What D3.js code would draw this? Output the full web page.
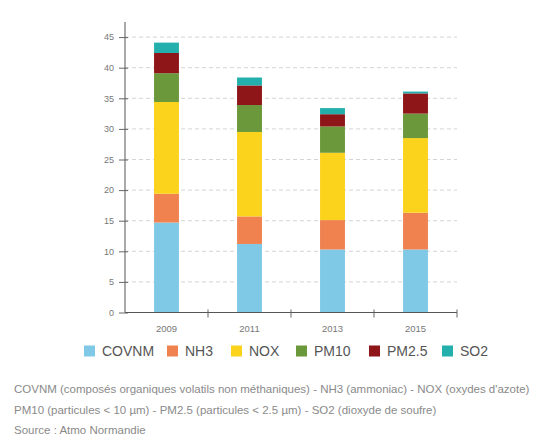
<!DOCTYPE html>
<html>
<head>
<meta charset="utf-8">
<script src="https://cdn.jsdelivr.net/npm/d3@7/dist/d3.min.js"></script>
<style>
  html, body { margin: 0; padding: 0; background: #fff; }
  svg { display: block; font-family: "Liberation Sans", Arial, sans-serif; }
</style>
</head>
<body>
<svg id="chart" width="553" height="444"></svg>
<script>
// Emissions by pollutant (kt), stacked per year
const years = ["2009", "2011", "2013", "2015"];
const pollutants = ["COVNM", "NH3", "NOX", "PM10", "PM2.5", "SO2"];
const covnm = [14.7, 11.2, 10.3, 10.3];
const nh3   = [4.7, 4.5, 4.8, 6.0];
const nox   = [15.0, 13.8, 11.0, 12.2];
const pm10  = [4.7, 4.4, 4.3, 4.0];
const pm25  = [3.3, 3.2, 2.0, 3.3];
const so2   = [1.7, 1.3, 1.0, 0.3];
const yTicks = [0, 5, 10, 15, 20, 25, 30, 35, 40, 45];
const colors = ["#80c9e6", "#f08250", "#fbd31c", "#6a983a", "#8e1518", "#23b0ad"];
const notes = [
  "COVNM (composés organiques volatils non méthaniques) - NH3 (ammoniac) - NOX (oxydes d'azote)",
  "PM10 (particules < 10 µm) - PM2.5 (particules < 2.5 µm) - SO2 (dioxyde de soufre)",
  "Source : Atmo Normandie"
];

const seriesValues = [covnm, nh3, nox, pm10, pm25, so2];
const rows = years.map((yr, i) => {
  const r = { year: yr };
  pollutants.forEach((p, j) => { r[p] = seriesValues[j][i]; });
  return r;
});

const svg = d3.select("#chart");
const plotLeft = 125, plotRight = 457, plotTop = 22, plotBottom = 312.5;

const x = d3.scaleBand().domain(years).range([plotLeft, plotRight]).paddingInner(0.7).paddingOuter(0.35);
const xTickScale = d3.scaleBand().domain(years).range([plotLeft, plotRight]);
const y = d3.scaleLinear().domain([0, 45]).range([plotBottom, plotBottom - 45 * 6.12]);

// dashed gridlines
svg.append("g")
  .selectAll("line")
  .data(yTicks.filter(d => d > 0))
  .join("line")
  .attr("x1", plotLeft).attr("x2", plotRight)
  .attr("y1", d => y(d)).attr("y2", d => y(d))
  .attr("stroke", "#d4d4d4")
  .attr("stroke-width", 1)
  .attr("stroke-dasharray", "4,3");

// stacked bars
const stack = d3.stack().keys(pollutants)(rows);
svg.append("g")
  .selectAll("g")
  .data(stack)
  .join("g")
  .attr("fill", (d, i) => colors[i])
  .selectAll("rect")
  .data(d => d)
  .join("rect")
  .attr("x", d => x(d.data.year))
  .attr("width", x.bandwidth())
  .attr("y", d => y(d[1]))
  .attr("height", d => y(d[0]) - y(d[1]));

// y axis
const yAxis = svg.append("g")
  .attr("transform", `translate(${plotLeft},0)`)
  .call(d3.axisLeft(y).tickValues(yTicks).tickSize(6).tickPadding(5));
yAxis.select(".domain").attr("d", `M0,${plotTop}V${plotBottom}`).attr("stroke", "#555");
yAxis.selectAll(".tick line").attr("stroke", "#666").attr("x2", 3).attr("x1", -6);
yAxis.selectAll("text").attr("fill", "#777").style("font-size", "9px").style("font-family", "Liberation Sans, Arial, sans-serif");

// x axis with ticks between categories
const xAxis = svg.append("g").attr("transform", `translate(0,${plotBottom})`);
xAxis.append("line")
  .attr("x1", plotLeft).attr("x2", plotRight)
  .attr("stroke", "#555");
xAxis.selectAll("line.sep")
  .data(years)
  .join("line")
  .attr("class", "sep")
  .attr("x1", d => xTickScale(d) + xTickScale.bandwidth())
  .attr("x2", d => xTickScale(d) + xTickScale.bandwidth())
  .attr("y1", -3).attr("y2", 5)
  .attr("stroke", "#666");
xAxis.selectAll("text")
  .data(years)
  .join("text")
  .attr("x", d => xTickScale(d) + xTickScale.bandwidth() / 2)
  .attr("y", 19)
  .attr("text-anchor", "middle")
  .attr("fill", "#777")
  .style("font-size", "9.5px")
  .text(d => d);

// legend
const legendX = [84, 167, 231, 296, 369, 442];
const legend = svg.append("g").attr("transform", "translate(0,351)");
const items = legend.selectAll("g")
  .data(pollutants)
  .join("g")
  .attr("transform", (d, i) => `translate(${legendX[i]},0)`);
items.append("rect")
  .attr("x", 0).attr("y", -5.5)
  .attr("width", 11).attr("height", 11)
  .attr("fill", (d, i) => colors[i]);
items.append("text")
  .attr("x", 18).attr("y", 5)
  .attr("fill", "#555")
  .style("font-size", "14px")
  .text(d => d);

// footnotes
svg.append("g")
  .selectAll("text")
  .data(notes)
  .join("text")
  .attr("x", 14)
  .attr("y", (d, i) => 393 + i * 20.5)
  .attr("fill", "#8a8a8a")
  .style("font-size", "11.5px")
  .text(d => d);
</script>
</body>
</html>
